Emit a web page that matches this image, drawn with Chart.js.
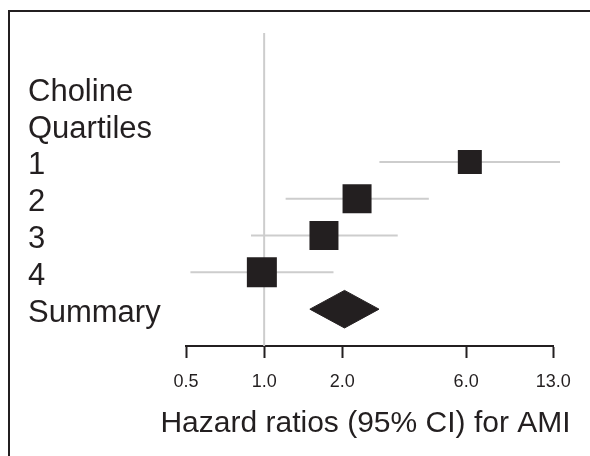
<!DOCTYPE html>
<html>
<head>
<meta charset="utf-8">
<script src="https://cdn.jsdelivr.net/npm/chart.js@4/dist/chart.umd.min.js"></script>
<style>
  html, body { margin: 0; padding: 0; background: #ffffff; }
  #wrap { position: relative; width: 590px; height: 456px; }
</style>
</head>
<body>
<div id="wrap"><canvas id="c"></canvas></div>
<script>
// ---- data ----
const rowLabels = ['Choline', 'Quartiles', '1', '2', '3', '4', 'Summary'];
const quartiles = ['1', '2', '3', '4'];
const hazardRatio = [6.2, 2.28, 1.70, 0.98];
const ciLower = [2.78, 1.21, 0.89, 0.52];
const ciUpper = [13.8, 4.31, 3.27, 1.85];
const summaryLabel = 'Summary';
const summaryHR = 2.04;
const summaryLower = 1.50;
const summaryUpper = 2.77;
const xTicks = [0.5, 1.0, 2.0, 6.0, 13.0];
const referenceValue = 1.0;
const xTitle = 'Hazard ratios (95% CI) for AMI';

// ---- styles ----
const INK = '#231f20';
const GREY = '#cdcdcd';
const FONT = '"Liberation Sans", Arial, Helvetica, sans-serif';
const boxSides = [24, 29, 29, 30];      // px, side of each square
const diamondHalf = 0.51;               // half height of diamond in row units

const rowOf = lbl => rowLabels.indexOf(lbl);

const datasets = [];
// squares
datasets.push({
  type: 'scatter',
  order: 0,
  data: quartiles.map((q, i) => ({ x: hazardRatio[i], y: rowOf(q) })),
  pointStyle: 'rect',
  pointRadius: boxSides.map(s => s / Math.SQRT2),
  pointHoverRadius: boxSides.map(s => s / Math.SQRT2),
  pointBackgroundColor: INK,
  pointBorderWidth: 0,
  showLine: false
});
// summary diamond
const sy = rowOf(summaryLabel);
datasets.push({
  type: 'line',
  order: 1,
  data: [
    { x: summaryLower, y: sy },
    { x: summaryHR, y: sy - diamondHalf },
    { x: summaryUpper, y: sy },
    { x: summaryHR, y: sy + diamondHalf },
    { x: summaryLower, y: sy }
  ],
  borderColor: INK,
  borderWidth: 1,
  backgroundColor: INK,
  fill: 'shape',
  pointRadius: 0,
  tension: 0
});
// confidence intervals
quartiles.forEach((q, i) => {
  datasets.push({
    type: 'line',
    order: 2,
    clip: false,
    data: [{ x: ciLower[i], y: rowOf(q) }, { x: ciUpper[i], y: rowOf(q) }],
    borderColor: GREY,
    borderWidth: 2,
    pointRadius: 0,
    fill: false
  });
});
// reference line at HR = 1
datasets.push({
  type: 'line',
  order: 3,
  data: [{ x: referenceValue, y: -1.5 }, { x: referenceValue, y: 7 }],
  borderColor: GREY,
  borderWidth: 2,
  pointRadius: 0,
  fill: false
});

const framePlugin = {
  id: 'frame',
  beforeDraw(chart) {
    const ctx = chart.ctx;
    ctx.save();
    ctx.fillStyle = INK;
    ctx.fillRect(8, 10, 2, chart.height - 10);
    ctx.fillRect(8, 10, chart.width - 8, 2);
    ctx.restore();
  },
  afterDraw(chart) {
    // x-axis title, wider than the plot area so drawn without squeezing
    const ctx = chart.ctx;
    ctx.save();
    ctx.fillStyle = INK;
    ctx.font = '30px ' + FONT;
    ctx.textAlign = 'center';
    ctx.textBaseline = 'alphabetic';
    ctx.fillText(xTitle, 365.5, 432);
    ctx.restore();
  }
};

new Chart(document.getElementById('c'), {
  type: 'scatter',
  data: { datasets },
  plugins: [framePlugin],
  options: {
    responsive: true,
    maintainAspectRatio: false,
    animation: false,
    events: [],
    layout: { padding: { left: 28, top: 33, right: 36.7, bottom: 0 } },
    plugins: { legend: { display: false }, tooltip: { enabled: false } },
    scales: {
      x: {
        type: 'logarithmic',
        position: 'bottom',
        min: xTicks[0],
        max: xTicks[xTicks.length - 1],
        afterBuildTicks: s => { s.ticks = xTicks.map(v => ({ value: v })); },
        afterFit: s => { s.height = 110; },
        grid: {
          display: true,
          drawOnChartArea: false,
          drawTicks: true,
          tickLength: 12,
          tickWidth: 2,
          tickColor: INK
        },
        border: { display: true, color: INK, width: 2 },
        ticks: {
          autoSkip: false,
          maxRotation: 0,
          padding: 13,
          color: INK,
          font: { family: FONT, size: 18 },
          callback: v => Number(v).toFixed(1)
        },
        title: { display: false, text: xTitle }
      },
      y: {
        type: 'linear',
        position: 'left',
        reverse: true,
        min: -1.5,
        max: 7,
        afterBuildTicks: s => { s.ticks = rowLabels.map((_, i) => ({ value: i })); },
        afterFit: s => { s.width = 158; },
        grid: { display: false, drawTicks: false },
        border: { display: false },
        ticks: {
          autoSkip: false,
          crossAlign: 'far',
          padding: 0,
          labelOffset: 4,
          color: INK,
          font: { family: FONT, size: 31 },
          callback: v => rowLabels[v] ?? ''
        }
      }
    }
  }
});
</script>
</body>
</html>
